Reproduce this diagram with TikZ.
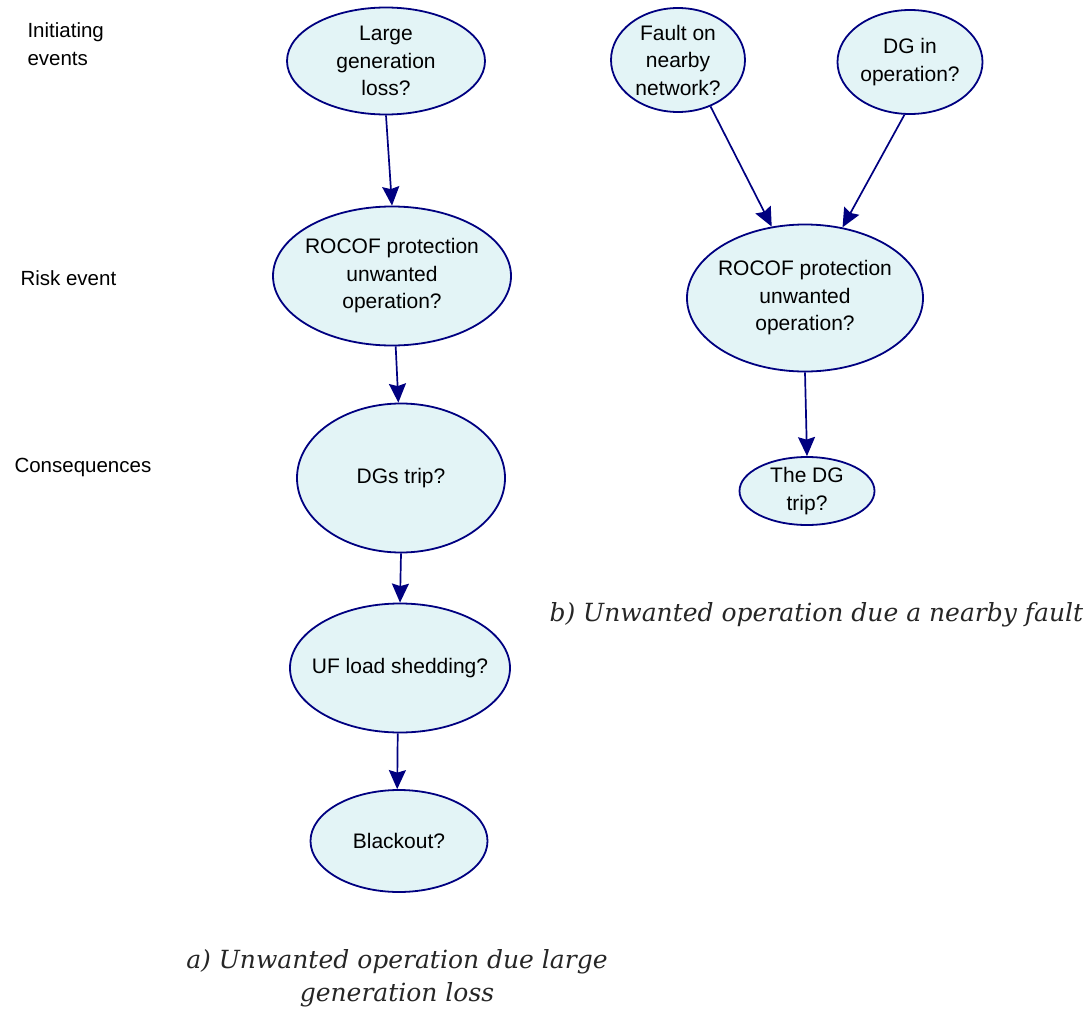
\documentclass[tikz,border=0pt]{standalone}
\usepackage{fontspec}
\setmainfont{Liberation Sans}
\newfontfamily\captionfont{DejaVu Serif}
\usetikzlibrary{shapes.geometric,arrows.meta}

\definecolor{nodefill}{RGB}{227,244,246}
\definecolor{nodeline}{RGB}{0,0,128}

\tikzset{
  chance/.style={ellipse, draw=nodeline, fill=nodefill, line width=1.8pt,
    inner xsep=-60pt, inner ysep=-30pt, align=center, text=black,
    font=\fontsize{21}{27.5}\selectfont},
  rowlabel/.style={anchor=west, align=left, text=black,
    font=\fontsize{20.5}{27.5}\selectfont},
  link/.style={draw=nodeline, line width=1.7pt,
    -{Stealth[length=19pt,width=17pt,inset=2.5pt]}},
  subcaption/.style={align=center, text=black!85,
    font=\captionfont\itshape\fontsize{25}{33}\selectfont},
}

\begin{document}
\begin{tikzpicture}[x=1pt,y=-1pt]
\useasboundingbox (0,0) rectangle (1090,1009);

% row labels
\node[rowlabel] (lblinit) at (24,44) {Initiating\\events};
\node[rowlabel] (lblrisk) at (17,278) {Risk event};
\node[rowlabel] (lblcons) at (11,467) {Consequences};

% network a)
\node[chance, minimum width=198pt, minimum height=107pt] (large) at (386,61) {Large\\generation\\loss?};
\node[chance, minimum width=238pt, minimum height=139pt] (rocofa) at (392,276) {ROCOF protection\\unwanted\\operation?};
\node[chance, minimum width=208pt, minimum height=149pt] (dgs) at (401,478) {DGs trip?};
\node[chance, minimum width=220pt, minimum height=129pt] (uf) at (400,668) {UF load shedding?};
\node[chance, minimum width=177pt, minimum height=102pt] (black) at (399,841) {Blackout?};

% network b)
\node[chance, minimum width=134pt, minimum height=104pt] (fault) at (678,60) {Fault on\\nearby\\network?};
\node[chance, minimum width=145pt, minimum height=104pt] (dgop) at (910,62) {DG in\\operation?};
\node[chance, minimum width=236pt, minimum height=147pt] (rocofb) at (805,298) {ROCOF protection\\unwanted\\operation?};
\node[chance, minimum width=135pt, minimum height=68pt] (dgtrip) at (807,491) {The DG\\trip?};

% connectors a)
\draw[link] (large.south) -- (rocofa.north);
\draw[link] (rocofa.-87) -- (dgs.92);
\draw[link] (dgs.south) -- (uf.north);
\draw[link] (uf.-92) -- (black.92);

% connectors b)
\draw[link] (fault.-55) -- (rocofb.115);
\draw[link] (dgop.-96) -- (rocofb.62);
\draw[link] (rocofb.south) -- (dgtrip.north);

% captions
\node[subcaption, anchor=west] (capb) at (546,615) {b) Unwanted operation due a nearby fault};
\node[subcaption] (capa) at (397,978) {a) Unwanted operation due large\\generation loss};
\end{tikzpicture}
\end{document}
